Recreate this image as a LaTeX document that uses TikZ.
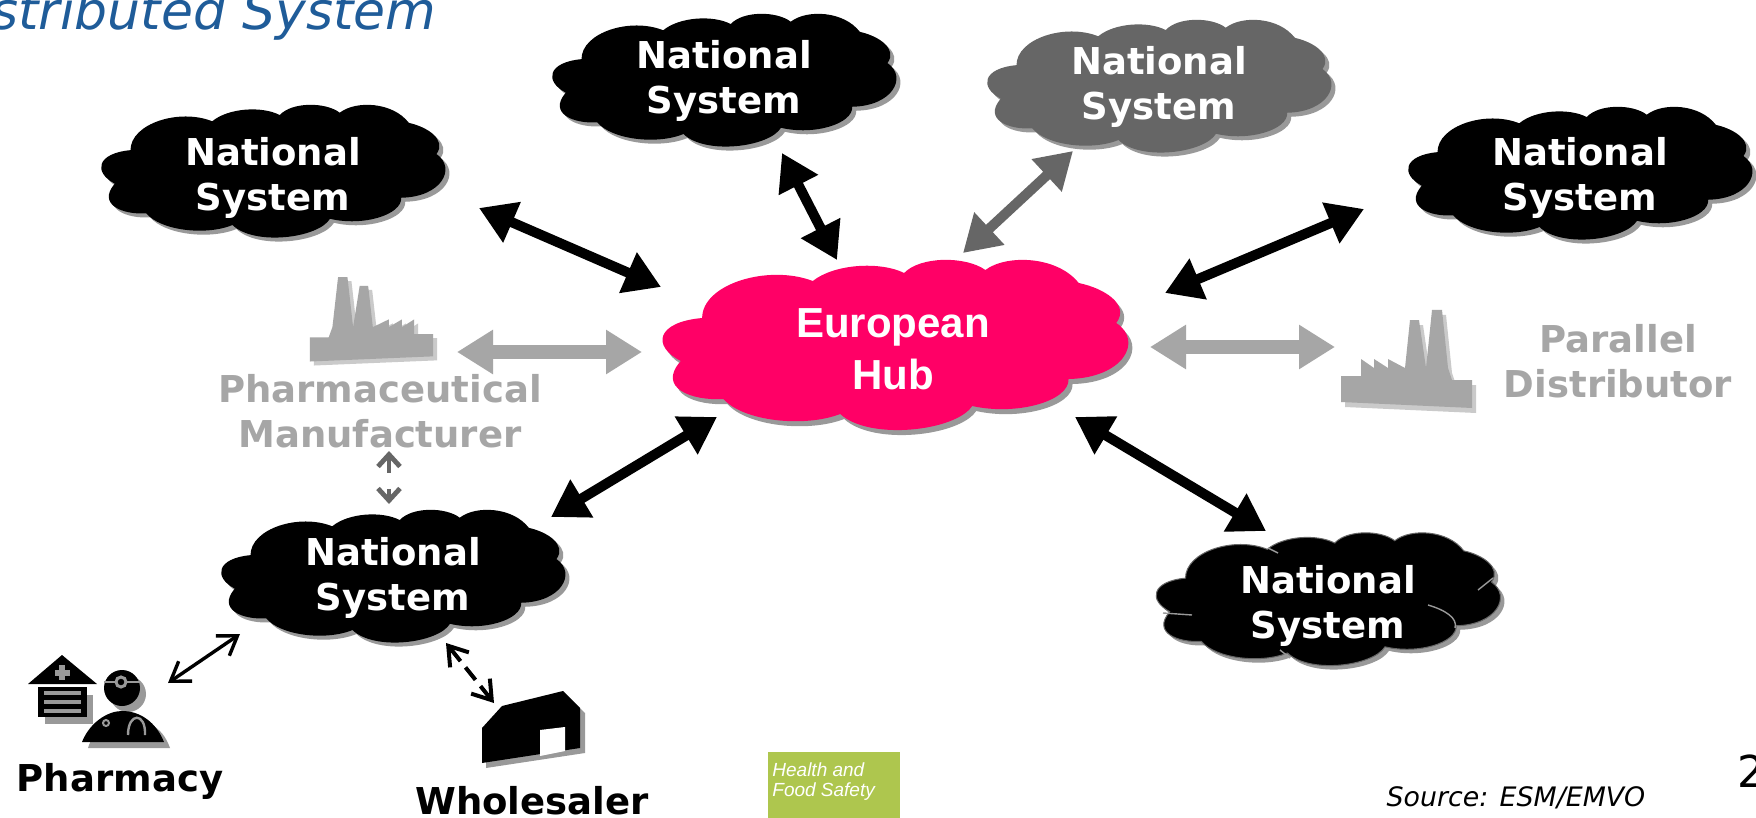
\documentclass[tikz,border=0pt]{standalone}
\usepackage{fontspec}
\setmainfont{DejaVu Sans}
\newfontfamily\hubfont{Liberation Sans}
\usepackage{tikz}
\usetikzlibrary{arrows.meta, calc}

\definecolor{hubpink}{HTML}{FF0066}
\definecolor{shadowgray}{HTML}{999999}
\definecolor{palegray}{HTML}{A6A6A6}
\definecolor{darkgray}{HTML}{666666}
\definecolor{titleblue}{HTML}{1F5C99}
\definecolor{safetygreen}{HTML}{AEC64E}

% contour d'un nuage, centre en (0,0)
\newcommand{\cloudpath}{
    (-190,-28) .. controls (-190,-62) and (-125,-82) .. (-81,-65)
    .. controls (-60,-82) and (-15,-85) .. (9,-73)
    .. controls (25,-90) and (70,-90) .. (89,-76)
    .. controls (110,-92) and (160,-90) .. (181,-63)
    .. controls (205,-58) and (232,-42) .. (218,-23)
    .. controls (245,-5) and (225,32) .. (171,33)
    .. controls (172,55) and (120,70) .. (76,60)
    .. controls (60,85) and (-25,95) .. (-54,68)
    .. controls (-90,82) and (-150,75) .. (-169,53)
    .. controls (-200,55) and (-235,42) .. (-211,15)
    .. controls (-240,0) and (-235,-24) .. (-190,-28) -- cycle
}
% contour d'une usine
\newcommand{\factorypath}{
    (0,0) -- (0,26) -- (131,32) -- (131,4) -- (111,4) -- (107,-8)
    -- (101,-66) -- (91,-66) -- (85,-8) -- (78,-56) -- (69,-56) -- (64,-8)
    -- (47,-17) -- (47,-8) -- (33,-17) -- (33,-8) -- (20,-17) -- (20,0) -- cycle
}

\tikzset{
    bigarrow/.style={line width=#1, {Triangle[length=18pt,width=21pt]}-{Triangle[length=18pt,width=21pt]}},
    bigarrow/.default=5pt,
    thinarrow/.style={line width=1.7pt, {Straight Barb[length=9pt,width=12pt]}-{Straight Barb[length=9pt,width=12pt]}},
    nationaltext/.style={text=white, font=\bfseries\fontsize{18.5}{22.5}\selectfont, align=center},
    actorlabel/.style={font=\bfseries\fontsize{18.5}{22.5}\selectfont, align=center},
}

\begin{document}
\begin{tikzpicture}[x=0.5pt, y=-0.5pt]

    \path[use as bounding box, fill=white] (0,0) rectangle (1756,818);

    % Titre
    \node[anchor=base east, text=titleblue, font=\itshape\fontsize{26}{30}\selectfont, inner sep=0pt] (title) at (437,30) {stributed System};

    % Nuage central
    \fill[shadowgray, shift={(899,351)}, xscale=1.015] \cloudpath;
    \fill[hubpink, shift={(895,346)}, xscale=1.015] \cloudpath;
    \node[text=white, font=\hubfont\bfseries\fontsize{21}{26}\selectfont, align=center] (hub) at (893,349) {European\\Hub};

    % Nuages nationaux
    \foreach \name/\x/\y/\dy/\col in {natA/273/172/6/black, natB/724/81/0/black, natC/1159/87/0/darkgray, natD/1580/174/4/black, natE/393/577/1/black, natF/1328/600/6/black} {
        \fill[shadowgray, shift={(\x+4,\y+4)}, xscale=0.75, yscale=0.78] \cloudpath;
        \fill[\col, shift={(\x,\y)}, xscale=0.75, yscale=0.78] \cloudpath;
        \node[nationaltext] (\name) at (\x,\y+\dy) {National\\System};
    }

    % Coutures du dernier nuage
    \draw[darkgray, line width=0.5pt, shift={(1328,600)}, xscale=0.75, yscale=0.78] \cloudpath;
    \draw[shadowgray, line width=0.7pt] (1478,590) -- (1493,578);
    \draw[shadowgray, line width=0.7pt] (1428,605) .. controls (1445,610) and (1458,618) .. (1455,628);
    \draw[shadowgray, line width=0.7pt] (1163,613) -- (1192,615);
    \draw[shadowgray, line width=0.7pt] (1268,548) -- (1278,553);
    \draw[shadowgray, line width=0.7pt] (1280,650) -- (1290,658);

    % Extremites des fleches
    \coordinate (aNat) at (479,208);  \coordinate (aHub) at (661,287);
    \coordinate (bNat) at (782,153);  \coordinate (bHub) at (837,260);
    \coordinate (cNat) at (1073,151); \coordinate (cHub) at (963,253);
    \coordinate (dNat) at (1364,209); \coordinate (dHub) at (1165,293);
    \coordinate (eNat) at (551,517);  \coordinate (eHub) at (717,417);
    \coordinate (fNat) at (1266,531); \coordinate (fHub) at (1075,417);
    \coordinate (manuA) at (457,352); \coordinate (manuB) at (642,352);
    \coordinate (distA) at (1150,347); \coordinate (distB) at (1335,347);
    \coordinate (manuC) at (389,451); \coordinate (natEa) at (389,504);
    \coordinate (pharmA) at (168,683); \coordinate (natEb) at (240,634);
    \coordinate (wholeA) at (494,703); \coordinate (natEc) at (446,643);

    % Fleches
    \foreach \a/\b in {aNat/aHub, bNat/bHub, dNat/dHub, eNat/eHub, fNat/fHub} {
        \draw[bigarrow, black] (\a) -- (\b);
    }
    \draw[bigarrow, darkgray] (cNat) -- (cHub);
    \draw[bigarrow=7pt, palegray] (manuA) -- (manuB);
    \draw[bigarrow=7pt, palegray] (distA) -- (distB);
    \draw[darkgray, line width=2.4pt, {Straight Barb[length=6pt,width=11pt]}-{Straight Barb[length=6pt,width=11pt]}, dash pattern=on 8pt off 8pt on 12pt] (manuC) -- (natEa);
    \draw[thinarrow, black] (pharmA) -- (natEb);
    \draw[thinarrow, black, line width=2pt, dash pattern=on 8pt off 4pt] (wholeA) -- (natEc);

    % Usines
    \fill[palegray!60, shift={(1345,381)}] \factorypath;
    \fill[palegray, shift={(1341,376)}] \factorypath;
    \fill[palegray!60, shift={(437,338)}, xscale=-0.94, yscale=0.86] \factorypath;
    \fill[palegray, shift={(433,334)}, xscale=-0.94, yscale=0.86] \factorypath;

    \node[actorlabel, text=palegray] (manufacturer) at (380,411) {Pharmaceutical\\Manufacturer};
    \node[actorlabel, text=palegray] (distributor) at (1618,361) {Parallel\\Distributor};

    % Pharmacie : ombre
    \fill[shadowgray] (45,695) rectangle (93,724);
    \fill[shadowgray] (128,694) circle (18);
    \fill[shadowgray] (88,748) .. controls (95,725) and (115,720) .. (128,720) .. controls (145,720) and (162,725) .. (170,748) -- cycle;
    % Pharmacie : maison
    \fill[black] (62,655) -- (28,684) -- (97,684) -- cycle;
    \fill[black] (38,687) rectangle (87,717);
    \foreach \y in {693,702,711} {
        \fill[shadowgray] (44,\y-2) rectangle (81,\y+2);
    }
    \fill[shadowgray] (59,665) rectangle (65,680);
    \fill[shadowgray] (55,670) rectangle (70,676);
    % Pharmacie : medecin
    \fill[black] (122,688) circle (18);
    \fill[black] (82,742) .. controls (90,722) and (108,711) .. (122,711) .. controls (140,711) and (156,722) .. (164,742) -- cycle;
    \draw[shadowgray, line width=1pt] (104,682) -- (140,682);
    \draw[shadowgray, fill=black, line width=1.5pt] (121,682) circle (5);
    \draw[shadowgray, line width=1pt] (106,723) circle (3);
    \draw[shadowgray, line width=1.2pt] (128,735) .. controls (128,712) and (146,712) .. (145,735);
    \node[actorlabel] (pharmacy) at (120,781) {Pharmacy};

    % Grossiste
    \fill[shadowgray] (486,768) -- (486,733) -- (506,711) -- (567,696) -- (585,713) -- (585,753) -- cycle;
    \fill[black] (482,763) -- (482,728) -- (502,706) -- (563,691) -- (580,708) -- (580,748) -- cycle;
    \fill[white] (540,730) -- (565,727) -- (565,751) -- (540,756) -- cycle;
    \node[actorlabel] (wholesaler) at (532,801) {Wholesaler};

    % Bas de page
    \fill[safetygreen] (768,752) rectangle (900,818);
    \node[anchor=north west, text=white, inner sep=0pt, font=\hubfont\itshape\fontsize{9.5}{10}\selectfont, align=left] (safety) at (772,762) {Health and\\Food Safety};
    \node[font=\itshape\fontsize{13.4}{15}\selectfont] (source) at (1516,798) {Source: ESM/EMVO};
    \node[anchor=west, inner sep=0pt, font=\fontsize{22}{26}\selectfont] (page) at (1737,771) {2};

\end{tikzpicture}
\end{document}
